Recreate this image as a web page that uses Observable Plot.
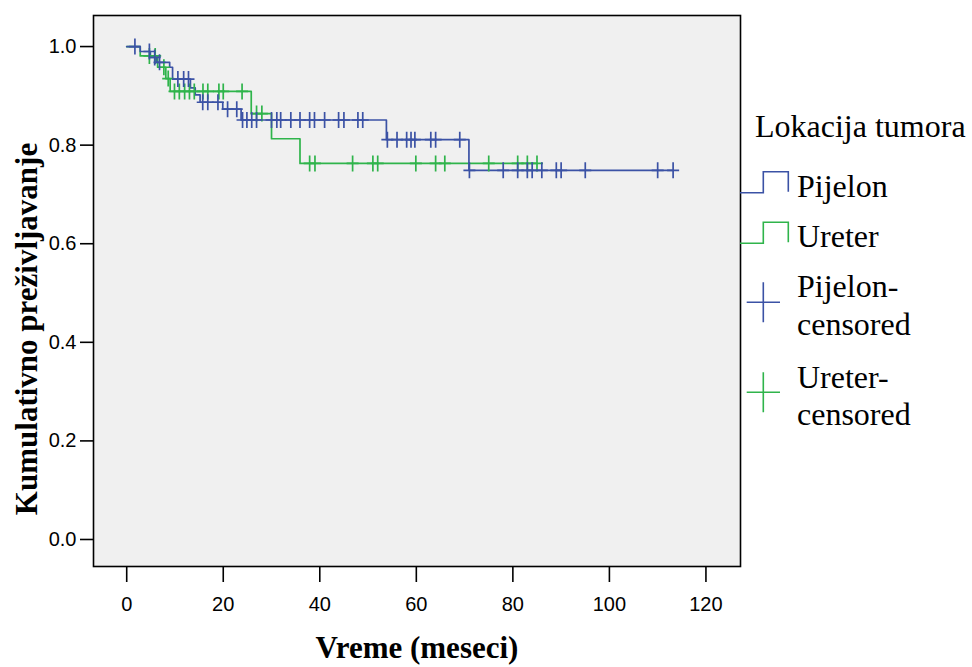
<!DOCTYPE html>
<html>
<head>
<meta charset="utf-8">
<script src="https://cdn.jsdelivr.net/npm/d3@7"></script>
<script src="https://cdn.jsdelivr.net/npm/@observablehq/plot@0.6"></script>
<style>
  html, body { margin: 0; padding: 0; background: #fff; }
  svg { display: block; }
</style>
</head>
<body>
<div id="chart"></div>
<script>
// Kaplan–Meier survival by tumour location (months)
const groups = ["Pijelon", "Ureter"];
const groupColors = ["#3b52a5", "#2fb44b"];

// Step curve: time of each step and survival after it (last point = end of follow-up)
const pijelonTimes = [0, 2.8, 4.9, 6.2, 8.9, 9.5, 13.2, 14.2, 15.2, 19.9, 23.7, 53.8, 70.9, 113.2];
const pijelonSurv  = [1.0, 0.990, 0.978, 0.968, 0.958, 0.934, 0.916, 0.902, 0.887, 0.873, 0.851, 0.811, 0.749, 0.749];

const ureterTimes = [0, 2.8, 6.4, 8.1, 9.0, 25.8, 30.0, 35.9, 85.0];
const ureterSurv  = [1.0, 0.981, 0.958, 0.935, 0.909, 0.864, 0.813, 0.763, 0.763];

// Censored observations
const pijelonCensTimes = [1.7, 4.7, 5.8, 6.8, 10.6, 11.8, 12.8, 15.75, 16.8, 18.9, 20.9, 22.8,
  24.0, 24.9, 25.9, 26.9, 30.0, 31.1, 31.9, 34.0, 35.9, 37.9, 38.9, 41.0, 43.9, 45.0, 47.9, 48.9,
  54.0, 56.0, 58.0, 58.9, 59.7, 63.0, 64.0, 69.0,
  71.0, 78.0, 81.0, 83.0, 84.0, 86.0, 89.0, 90.0, 95.0, 110.0, 113.2];
const pijelonCensSurv = [1.0, 0.990, 0.978, 0.968, 0.934, 0.934, 0.934, 0.887, 0.887, 0.887, 0.873, 0.873,
  0.851, 0.851, 0.851, 0.851, 0.851, 0.851, 0.851, 0.851, 0.851, 0.851, 0.851, 0.851, 0.851, 0.851, 0.851, 0.851,
  0.811, 0.811, 0.811, 0.811, 0.811, 0.811, 0.811, 0.811,
  0.749, 0.749, 0.749, 0.749, 0.749, 0.749, 0.749, 0.749, 0.749, 0.749, 0.749];

const ureterCensTimes = [4.7, 5.9, 7.7, 8.6, 9.9, 10.9, 12.0, 13.0, 14.0, 15.8, 16.8, 19.1, 20.0, 23.9,
  26.9, 28.0, 37.9, 39.0, 46.8, 51.0, 52.0, 59.9, 64.0, 65.9, 75.0, 81.0, 83.0, 85.0];
const ureterCensSurv = [0.981, 0.981, 0.958, 0.935, 0.909, 0.909, 0.909, 0.909, 0.909, 0.909, 0.909, 0.909, 0.909, 0.909,
  0.864, 0.864, 0.763, 0.763, 0.763, 0.763, 0.763, 0.763, 0.763, 0.763, 0.763, 0.763, 0.763, 0.763];

const xTicks = [0, 20, 40, 60, 80, 100, 120];
const yTicks = [0, 0.2, 0.4, 0.6, 0.8, 1.0];

const legendTitle = "Lokacija tumora";
const xTitle = "Vreme (meseci)";
const yTitle = "Kumulativno preživljavanje";

const zip = (ts, ss) => ts.map((t, i) => ({t, s: ss[i]}));
const pijelonCurve = zip(pijelonTimes, pijelonSurv);
const ureterCurve = zip(ureterTimes, ureterSurv);
const pijelonCens = zip(pijelonCensTimes, pijelonCensSurv);
const ureterCens = zip(ureterCensTimes, ureterCensSurv);

// thin "+" marker for censored cases
const censorPlus = {
  draw(ctx) {
    ctx.moveTo(-6, 0); ctx.lineTo(6, 0);
    ctx.moveTo(0, -8); ctx.lineTo(0, 8);
  }
};

const serif = "'Liberation Serif', 'Times New Roman', serif";

const chart = Plot.plot({
  width: 972,
  height: 667,
  marginLeft: 93,
  marginRight: 232,
  marginTop: 15,
  marginBottom: 101,
  style: {fontFamily: "'Liberation Sans', Arial, sans-serif", fontSize: "20px", background: "#fff", overflow: "visible"},
  x: {domain: [-6.88, 127.16]},
  y: {domain: [-0.0548, 1.063]},
  marks: [
    Plot.frame({fill: "#f0f0f0"}),
    Plot.axisY({ticks: yTicks, tickFormat: d3.format(".1f"), tickSize: 13, tickPadding: 4,
      strokeWidth: 1.6, fontSize: 20, label: null}),
    Plot.axisX({ticks: xTicks, tickSize: 16, tickPadding: 14, strokeWidth: 1.6, fontSize: 20, label: null}),
    Plot.line(ureterCurve, {x: "t", y: "s", curve: "step-after", stroke: groupColors[1], strokeWidth: 1.7}),
    Plot.line(pijelonCurve, {x: "t", y: "s", curve: "step-after", stroke: groupColors[0], strokeWidth: 1.7}),
    Plot.dot(ureterCens, {x: "t", y: "s", symbol: censorPlus, stroke: groupColors[1], fill: "none", strokeWidth: 1.7}),
    Plot.dot(pijelonCens, {x: "t", y: "s", symbol: censorPlus, stroke: groupColors[0], fill: "none", strokeWidth: 1.7}),
    Plot.frame({stroke: "#000", strokeWidth: 1.6}),
    Plot.text([xTitle], {frameAnchor: "bottom", dy: 82, lineAnchor: "middle", textAnchor: "middle",
      fontSize: 31, fontWeight: "bold", fontFamily: serif, fill: "#000"}),
    Plot.text([yTitle], {frameAnchor: "left", dx: -66, dy: 38, rotate: -90, lineAnchor: "middle", textAnchor: "middle",
      fontSize: 31, fontWeight: "bold", fontFamily: serif, fill: "#000"})
  ]
});

// legend on the right of the frame
const svg = d3.select(chart);
const lg = svg.append("g")
  .attr("font-family", serif).attr("font-size", 32)
  .attr("text-anchor", "start").attr("fill", "#000");
lg.append("text").attr("x", 755).attr("y", 137).text(legendTitle);

const stepIcon = (yBase, color) => {
  lg.append("path")
    .attr("d", `M740,${yBase}H763.3V${yBase - 21}H788.3V${yBase - 1}`)
    .attr("fill", "none").attr("stroke", color).attr("stroke-width", 1.6);
};
const plusIcon = (cy, color) => {
  lg.append("path")
    .attr("d", `M746.7,${cy}H780M763.3,${cy - 20}V${cy + 20}`)
    .attr("fill", "none").attr("stroke", color).attr("stroke-width", 1.6);
};

stepIcon(192.7, groupColors[0]);
lg.append("text").attr("x", 797).attr("y", 197).text(groups[0]);
stepIcon(243.3, groupColors[1]);
lg.append("text").attr("x", 797).attr("y", 247).text(groups[1]);

plusIcon(302.3, groupColors[0]);
lg.append("text").attr("x", 797).attr("y", 297).text(groups[0] + "-");
lg.append("text").attr("x", 797).attr("y", 335).text("censored");
plusIcon(392.3, groupColors[1]);
lg.append("text").attr("x", 797).attr("y", 388).text(groups[1] + "-");
lg.append("text").attr("x", 797).attr("y", 425).text("censored");

document.getElementById("chart").appendChild(chart);
</script>
</body>
</html>
